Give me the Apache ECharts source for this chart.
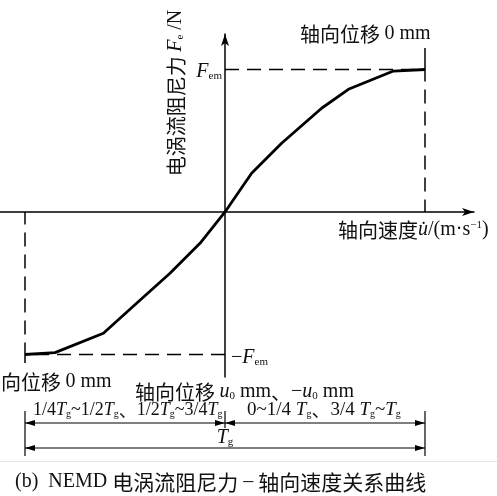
<!DOCTYPE html>
<html><head><meta charset="utf-8">
<script src="https://cdn.jsdelivr.net/npm/echarts@6/dist/echarts.min.js"></script>
<style>html,body{margin:0;padding:0;background:#fff}#c{width:497px;height:496px}</style>
</head><body><div id="c"></div>
<script>
// normalized velocity (x, -1..1) and normalized force F/Fem (y)
const curveX = [-1.0, -0.85, -0.608, -0.442, -0.275, -0.125, 0, 0.133, 0.283, 0.483, 0.617, 0.842, 1.0];
const curveY = [-1.0, -0.987, -0.851, -0.641, -0.430, -0.220, 0, 0.272, 0.482, 0.728, 0.861, 0.989, 1.0];
const boundX = [-1, 1];      // velocity extremes (axial displacement 0 mm)
const forceLevels = [1, -1]; // +Fem, -Fem

const SERIF = "'Liberation Serif','Noto Sans CJK SC'";
const CJK = "'Noto Sans CJK SC','Liberation Serif'";
const chart = echarts.init(document.getElementById('c'), null, {renderer: 'canvas'});

const pts = curveX.map((x, i) => [x, curveY[i]]);
chart.setOption({
  animation: false,
  backgroundColor: '#fff',
  grid: {left: 0, right: 23, top: 34, bottom: 119, containLabel: false},
  xAxis: {type: 'value', min: -1.125, max: 1.245,
    axisLine: {onZero: true, lineStyle: {color: '#000', width: 1.5}, symbol: ['none', 'arrow'], symbolSize: [6, 12]},
    axisTick: {show: false}, axisLabel: {show: false}, splitLine: {show: false}},
  yAxis: {type: 'value', min: -1.158, max: 1.249,
    axisLine: {onZero: true, lineStyle: {color: '#000', width: 1.5}, symbol: ['none', 'arrow'], symbolSize: [6, 12]},
    axisTick: {show: false}, axisLabel: {show: false}, splitLine: {show: false}},
  series: [
    {type: 'line', data: [[0, forceLevels[0]], [boundX[1], forceLevels[0]], [boundX[1], 0]], symbol: 'none',
     lineStyle: {color: '#000', width: 1.5, type: [14, 8]}},
    {type: 'line', data: [[0, forceLevels[1]], [boundX[0], forceLevels[1]], [boundX[0], 0]], symbol: 'none',
     lineStyle: {color: '#000', width: 1.5, type: [14, 8]}},
    {type: 'line', data: [[boundX[1], forceLevels[0]], [boundX[1], 1.15]], symbol: 'none',
     lineStyle: {color: '#000', width: 1.5}},
    {type: 'line', data: [[boundX[0], forceLevels[1]], [boundX[0], -1.06]], symbol: 'none',
     lineStyle: {color: '#000', width: 1.5}},
    {type: 'line', data: pts, symbol: 'none', lineStyle: {color: '#000', width: 2.8}, z: 5}
  ]
});

const px = (x, y) => chart.convertToPixel({gridIndex: 0}, [x, y]);
const L = px(boundX[0], 0)[0], M = px(0, 0)[0], R = px(boundX[1], 0)[0];
const yFem = px(0, forceLevels[0])[1], yNFem = px(0, forceLevels[1])[1];

const rich = {
  cn: {fontSize: 20, fontFamily: CJK, fill: '#111'},
  rm: {fontSize: 20, fontFamily: SERIF, fill: '#111'},
  it: {fontSize: 20, fontFamily: SERIF, fontStyle: 'italic', fill: '#111'},
  sub: {fontSize: 11, fontFamily: SERIF, fill: '#111', verticalAlign: 'bottom'},
  sup: {fontSize: 11, fontFamily: SERIF, fill: '#111', verticalAlign: 'top'},
  cap: {fontSize: 21, fontFamily: CJK, fill: '#111'},
  cn2: {fontSize: 18, fontFamily: CJK, fill: '#111'},
  rm2: {fontSize: 18, fontFamily: SERIF, fill: '#111'},
  it2: {fontSize: 18, fontFamily: SERIF, fontStyle: 'italic', fill: '#111'},
  sub2: {fontSize: 10, fontFamily: SERIF, fill: '#111', verticalAlign: 'bottom'},
  cn3: {fontSize: 19, fontFamily: CJK, fill: '#111'},
  rm3: {fontSize: 19, fontFamily: SERIF, fill: '#111'},
  it3: {fontSize: 19, fontFamily: SERIF, fontStyle: 'italic', fill: '#111'},
  sub3: {fontSize: 10, fontFamily: SERIF, fill: '#111', verticalAlign: 'bottom'}
};
function txt(x, y, text, align, extra) {
  return Object.assign({type: 'text', x: x, y: y, silent: true,
    style: {text: text, rich: rich, textAlign: align || 'left', textVerticalAlign: 'middle', fill: '#111'}}, extra || {});
}
const g = [];
g.push(txt(300, 34, '{cn|轴向位移 }{rm|0 mm}'));
g.push(txt(222, yFem + 2, '{it|F}{sub|em}', 'right'));
g.push(txt(231, yNFem + 3, '{rm|−}{it|F}{sub|em}'));
g.push(txt(338, 230, '{cn|轴向速度}{it|u̇}{rm|/(m·s}{sup|−1}{rm|)}'));
g.push(txt(1, 382, '{cn|向位移 }{rm|0 mm}'));
g.push(txt(135, 392, '{cn|轴向位移 }{it|u}{sub|0}{rm| mm}{cn|、}{rm|−}{it|u}{sub|0}{rm| mm}'));
g.push(txt(33, 410, '{rm2|1/4}{it2|T}{sub2|g}{rm2|~1/2}{it2|T}{sub2|g}{cn2|、}{rm2|1/2}{it2|T}{sub2|g}{rm2|~3/4}{it2|T}{sub2|g}'));
g.push(txt(247, 410, '{rm3|0~1/4 }{it3|T}{sub3|g}{cn3|、}{rm3|3/4 }{it3|T}{sub3|g}{rm3|~}{it3|T}{sub3|g}'));
g.push(txt(M, 438, '{it|T}{sub|g}', 'center'));
g.push(txt(15, 482, '{rm|(b)  NEMD }{cap|电涡流阻尼力}{rm| – }{cap|轴向速度关系曲线}'));
g.push(txt(176, 93, '{cn|电涡流阻尼力 }{it|F}{sub|e}{rm| /N}', 'center', {rotation: Math.PI / 2}));

// dimension lines
const d1 = 423, d2 = 448;
const ln = (x1, y1, x2, y2) => ({type: 'line', silent: true, shape: {x1, y1, x2, y2}, style: {stroke: '#000', lineWidth: 1.2}});
const arrow = (x, y, dir) => ({type: 'polygon', silent: true,
  shape: {points: [[x, y], [x + dir * 10, y - 3], [x + dir * 10, y + 3]]}, style: {fill: '#000'}});
g.push(ln(L, 411, L, 456), ln(R, 411, R, 456), ln(M, 411, M, 428));
g.push(ln(L, d1, R, d1), ln(L, d2, R, d2));
g.push(arrow(L, d1, 1), arrow(M, d1, -1), arrow(M, d1, 1), arrow(R, d1, -1));
g.push(arrow(L, d2, 1), arrow(R, d2, -1));
g.push({type: 'line', silent: true, shape: {x1: 0, y1: 461.5, x2: 497, y2: 461.5}, style: {stroke: '#e4e4e4', lineWidth: 1}});
chart.setOption({graphic: g});
</script></body></html>
